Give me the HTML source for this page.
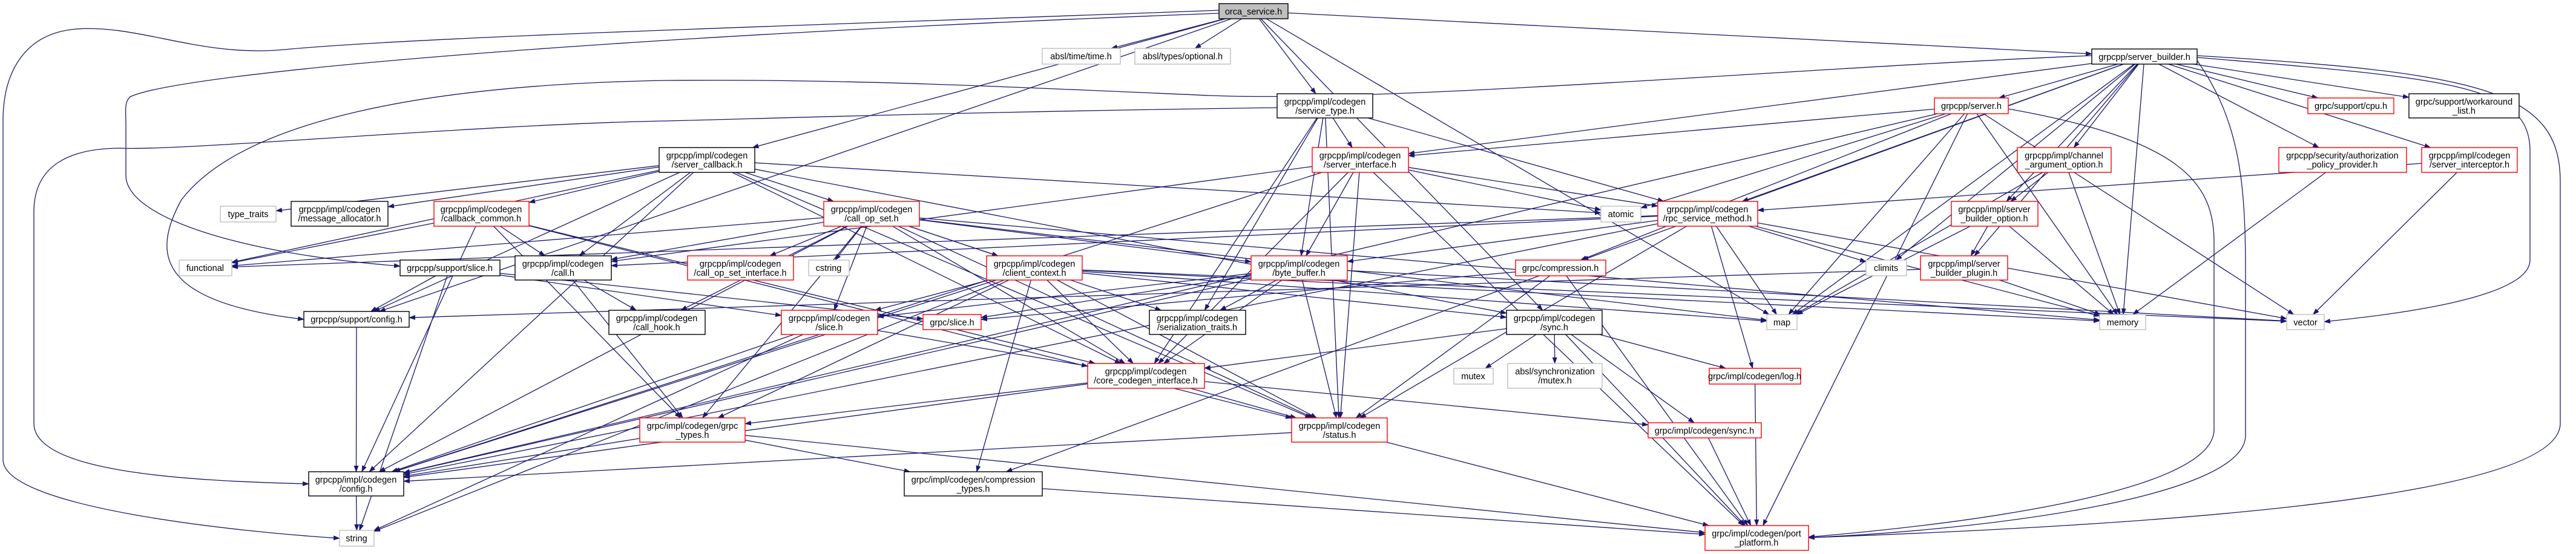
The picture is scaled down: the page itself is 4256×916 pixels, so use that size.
<!DOCTYPE html>
<html><head><meta charset="utf-8"><style>
html,body{margin:0;padding:0;background:#fff;}
svg{display:block;}
text{font-family:"Liberation Sans",sans-serif;font-size:14.5px;fill:#000;text-anchor:middle;}
.k{fill:#fff;stroke:#000;stroke-width:1.4;}
.r{fill:#fff;stroke:#ff0000;stroke-width:1.4;}
.g{fill:#fff;stroke:#bfbfbf;stroke-width:1.4;}
.o{fill:#bfbfbf;stroke:#000;stroke-width:1.4;}
.e{fill:none;stroke:#191970;stroke-width:1.3;}
</style></head><body>
<svg id="s" width="4256" height="916" viewBox="0 0 4256 916" xmlns="http://www.w3.org/2000/svg">
<defs><marker id="a" markerUnits="userSpaceOnUse" markerWidth="11" markerHeight="8" refX="10" refY="4" orient="auto"><path d="M0,0 L11,4 L0,8 z" fill="#191970"/></marker></defs>
<g id="edges">
<path class="e" marker-end="url(#a)" d="M2014,17 C1400,40 700,60 470,82 C330,95 230,40 126,48 C40,55 5,120 5,200 L5,760 C5,840 400,880 561,890"/>
<path class="e" marker-end="url(#a)" d="M2014,22 C1000,60 300,120 215,160 C205,170 208,180 208,210 L208,290 C208,360 400,420 661,440"/>
<path class="e" marker-end="url(#a)" d="M3456,92 C3000,110 2300,170 2000,158 C1700,145 1400,130 1100,133 C700,140 400,200 300,330 C250,420 260,500 502,528"/>
<path class="e" marker-end="url(#a)" d="M2110,178 C1600,185 1300,195 1100,200 C800,205 300,250 200,245 C120,245 56,270 56,350 L56,700 C56,780 300,795 510,800"/>
<path class="e" marker-end="url(#a)" d="M3630,92 C4100,120 4230,150 4230,300 L4230,700 C4230,830 3500,870 2988,889"/>
<path class="e" marker-end="url(#a)" d="M3630,95 C4050,130 4180,140 4180,250 L4180,430 C4180,500 3900,525 3840,532"/>
<path class="e" marker-end="url(#a)" d="M3318,180 C3600,230 3658,300 3658,400 L3658,710 C3658,820 3200,870 2988,888"/>
<path class="e" marker-end="url(#a)" d="M3630,100 C3700,200 3710,300 3710,450 L3710,720 C3710,820 3300,875 2988,889"/>
</g>
<g id="nodes">
<rect class="o" x="2014" y="6" width="114" height="25"/><text x="2071" y="24">orca_service.h</text>
<rect class="g" x="1722" y="80" width="129" height="26"/><text x="1786" y="98">absl/time/time.h</text>
<rect class="g" x="1875" y="80" width="158" height="26"/><text x="1954" y="98">absl/types/optional.h</text>
<rect class="k" x="3456" y="81" width="174" height="25"/><text x="3543" y="99">grpcpp/server_builder.h</text>
<rect class="k" x="2110" y="155" width="158" height="40"/><text x="2189" y="173">grpcpp/impl/codegen</text><text x="2189" y="188">/service_type.h</text>
<rect class="r" x="3196" y="162" width="122" height="26"/><text x="3257" y="180">grpcpp/server.h</text>
<rect class="r" x="3813" y="162" width="142" height="26"/><text x="3884" y="180">grpc/support/cpu.h</text>
<rect class="k" x="3980" y="155" width="182" height="40"/><text x="4071" y="173">grpc/support/workaround</text><text x="4071" y="188">_list.h</text>
<rect class="r" x="2168" y="244" width="159" height="41"/><text x="2247" y="262">grpcpp/impl/codegen</text><text x="2247" y="277">/server_interface.h</text>
<rect class="k" x="1089" y="244" width="158" height="41"/><text x="1168" y="262">grpcpp/impl/codegen</text><text x="1168" y="277">/server_callback.h</text>
<rect class="r" x="3333" y="244" width="155" height="41"/><text x="3410" y="262">grpcpp/impl/channel</text><text x="3410" y="277">_argument_option.h</text>
<rect class="r" x="3765" y="244" width="211" height="41"/><text x="3870" y="262">grpcpp/security/authorization</text><text x="3870" y="277">_policy_provider.h</text>
<rect class="r" x="4001" y="244" width="158" height="41"/><text x="4080" y="262">grpcpp/impl/codegen</text><text x="4080" y="277">/server_interceptor.h</text>
<rect class="g" x="364" y="341" width="92" height="26"/><text x="410" y="359">type_traits</text>
<rect class="k" x="481" y="333" width="160" height="41"/><text x="561" y="351">grpcpp/impl/codegen</text><text x="561" y="366">/message_allocator.h</text>
<rect class="r" x="717" y="333" width="157" height="41"/><text x="795" y="351">grpcpp/impl/codegen</text><text x="795" y="366">/callback_common.h</text>
<rect class="r" x="1361" y="333" width="158" height="41"/><text x="1440" y="351">grpcpp/impl/codegen</text><text x="1440" y="366">/call_op_set.h</text>
<rect class="g" x="2645" y="341" width="66" height="26"/><text x="2678" y="359">atomic</text>
<rect class="r" x="2739" y="333" width="165" height="41"/><text x="2821" y="351">grpcpp/impl/codegen</text><text x="2821" y="366">/rpc_service_method.h</text>
<rect class="r" x="3224" y="333" width="143" height="41"/><text x="3295" y="351">grpcpp/impl/server</text><text x="3295" y="366">_builder_option.h</text>
<rect class="g" x="296" y="430" width="87" height="26"/><text x="339" y="448">functional</text>
<rect class="k" x="661" y="430" width="165" height="26"/><text x="743" y="448">grpcpp/support/slice.h</text>
<rect class="k" x="851" y="423" width="159" height="40"/><text x="930" y="441">grpcpp/impl/codegen</text><text x="930" y="456">/call.h</text>
<rect class="r" x="1136" y="423" width="175" height="40"/><text x="1223" y="441">grpcpp/impl/codegen</text><text x="1223" y="456">/call_op_set_interface.h</text>
<rect class="g" x="1336" y="430" width="67" height="26"/><text x="1369" y="448">cstring</text>
<rect class="r" x="1630" y="423" width="158" height="40"/><text x="1709" y="441">grpcpp/impl/codegen</text><text x="1709" y="456">/client_context.h</text>
<rect class="r" x="2067" y="423" width="159" height="40"/><text x="2146" y="441">grpcpp/impl/codegen</text><text x="2146" y="456">/byte_buffer.h</text>
<rect class="r" x="2504" y="430" width="149" height="26"/><text x="2578" y="448">grpc/compression.h</text>
<rect class="g" x="3083" y="430" width="67" height="26"/><text x="3116" y="448">climits</text>
<rect class="r" x="3173" y="423" width="144" height="40"/><text x="3245" y="441">grpcpp/impl/server</text><text x="3245" y="456">_builder_plugin.h</text>
<rect class="k" x="502" y="515" width="174" height="26"/><text x="589" y="533">grpcpp/support/config.h</text>
<rect class="k" x="1006" y="513" width="159" height="40"/><text x="1085" y="531">grpcpp/impl/codegen</text><text x="1085" y="546">/call_hook.h</text>
<rect class="r" x="1291" y="513" width="159" height="40"/><text x="1370" y="531">grpcpp/impl/codegen</text><text x="1370" y="546">/slice.h</text>
<rect class="r" x="1525" y="520" width="96" height="25"/><text x="1573" y="538">grpc/slice.h</text>
<rect class="k" x="1899" y="513" width="159" height="40"/><text x="1978" y="531">grpcpp/impl/codegen</text><text x="1978" y="546">/serialization_traits.h</text>
<rect class="k" x="2489" y="513" width="158" height="40"/><text x="2568" y="531">grpcpp/impl/codegen</text><text x="2568" y="546">/sync.h</text>
<rect class="g" x="2919" y="520" width="50" height="25"/><text x="2944" y="538">map</text>
<rect class="g" x="3469" y="520" width="76" height="25"/><text x="3507" y="538">memory</text>
<rect class="g" x="3778" y="520" width="62" height="25"/><text x="3809" y="538">vector</text>
<rect class="r" x="1797" y="601" width="193" height="41"/><text x="1893" y="619">grpcpp/impl/codegen</text><text x="1893" y="634">/core_codegen_interface.h</text>
<rect class="g" x="2402" y="609" width="65" height="26"/><text x="2434" y="627">mutex</text>
<rect class="g" x="2491" y="601" width="156" height="41"/><text x="2569" y="619">absl/synchronization</text><text x="2569" y="634">/mutex.h</text>
<rect class="r" x="2824" y="609" width="151" height="26"/><text x="2899" y="627">grpc/impl/codegen/log.h</text>
<rect class="r" x="1057" y="691" width="174" height="40"/><text x="1144" y="709">grpc/impl/codegen/grpc</text><text x="1144" y="724">_types.h</text>
<rect class="r" x="2134" y="691" width="158" height="40"/><text x="2213" y="709">grpcpp/impl/codegen</text><text x="2213" y="724">/status.h</text>
<rect class="r" x="2723" y="699" width="187" height="25"/><text x="2816" y="717">grpc/impl/codegen/sync.h</text>
<rect class="k" x="510" y="780" width="157" height="40"/><text x="588" y="798">grpcpp/impl/codegen</text><text x="588" y="813">/config.h</text>
<rect class="k" x="1494" y="780" width="228" height="40"/><text x="1608" y="798">grpc/impl/codegen/compression</text><text x="1608" y="813">_types.h</text>
<rect class="g" x="561" y="877" width="57" height="26"/><text x="589" y="895">string</text>
<rect class="r" x="2817" y="869" width="171" height="41"/><text x="2902" y="887">grpc/impl/codegen/port</text><text x="2902" y="902">_platform.h</text>
</g>
</svg>
<script>
var N={orca:[2014,6,2128,31],time:[1722,80,1851,106],opt:[1875,80,2033,106],sb:[3456,81,3630,106],st:[2110,155,2268,195],srv:[3196,162,3318,188],cpu:[3813,162,3955,188],wa:[3980,155,4162,195],si:[2168,244,2327,285],scb:[1089,244,1247,285],cao:[3333,244,3488,285],authz:[3765,244,3976,285],sint:[4001,244,4159,285],tt:[364,341,456,367],ma:[481,333,641,374],cc:[717,333,874,374],cos:[1361,333,1519,374],atomic:[2645,341,2711,367],rsm:[2739,333,2904,374],sbo:[3224,333,3367,374],fn:[296,430,383,456],sslice:[661,430,826,456],call:[851,423,1010,463],copi:[1136,423,1311,463],cstr:[1336,430,1403,456],cctx:[1630,423,1788,463],bb:[2067,423,2226,463],comp:[2504,430,2653,456],climits:[3083,430,3150,456],sbp:[3173,423,3317,463],scfg:[502,515,676,541],chook:[1006,513,1165,553],slice:[1291,513,1450,553],gslice:[1525,520,1621,545],ser:[1899,513,2058,553],sync:[2489,513,2647,553],map:[2919,520,2969,545],mem:[3469,520,3545,545],vec:[3778,520,3840,545],ccif:[1797,601,1990,642],mutex:[2402,609,2467,635],amutex:[2491,601,2647,642],log:[2824,609,2975,635],gt:[1057,691,1231,731],status:[2134,691,2292,731],gsync:[2723,699,2910,724],cfg:[510,780,667,820],ct:[1494,780,1722,820],str:[561,877,618,903],pp:[2817,869,2988,910]};
var E="orca>time orca>opt orca>st orca>scb orca>sb orca>map orca>sync orca>scfg "+
"sb>srv sb>cpu sb>wa sb>cao sb>authz sb>sint sb>sbo sb>sbp sb>climits sb>map sb>mem sb>comp sb>rsm sb>si "+
"st>si st>rsm st>ser st>bb st>status st>ccif "+
"srv>si srv>comp srv>map srv>mem srv>vec srv>pp srv>atomic srv>cfg "+
"si>bb si>ccif si>status si>pp si>rsm si>call si>cfg si>atomic "+
"scb>tt scb>ma scb>cc scb>cos scb>call scb>fn scb>atomic scb>sync scb>ccif scb>status scb>cfg scb>scfg "+
"cc>fn cc>call cc>cfg cc>gt cc>status cc>ccif "+
"cos>call cos>copi cos>cstr cos>cctx cos>bb cos>slice cos>chook cos>ser cos>ccif cos>status cos>gt cos>cfg cos>fn cos>map cos>mem "+
"cctx>slice cctx>ccif cctx>status cctx>gt cctx>ct cctx>sync cctx>map cctx>mem cctx>vec cctx>cfg cctx>str "+
"bb>slice bb>ser bb>ccif bb>status bb>gslice bb>vec bb>cfg "+
"rsm>bb rsm>status rsm>map rsm>mem rsm>vec rsm>climits rsm>log rsm>fn rsm>cfg rsm>call "+
"cao>sbo cao>map cao>mem sbo>sbp sbo>mem sbo>map sbp>mem sbp>scfg sint>vec sint>rsm authz>mem "+
"call>chook call>gt sslice>slice sslice>gslice sslice>scfg sslice>str slice>ccif slice>cfg slice>str scfg>cfg "+
"ccif>gt ccif>status ccif>gsync ccif>cfg sync>mutex sync>amutex sync>log sync>gsync sync>ccif sync>pp "+
"gt>ct gt>pp gt>cfg status>cfg status>pp ct>pp cfg>str comp>ct comp>pp comp>gslice comp>status log>pp gsync>pp";
function clip(b,qx,qy){var cx=(b[0]+b[2])/2,cy=(b[1]+b[3])/2,dx=qx-cx,dy=qy-cy,hw=(b[2]-b[0])/2,hh=(b[3]-b[1])/2;
var s=Math.min(dx?hw/Math.abs(dx):1e9,dy?hh/Math.abs(dy):1e9);return [cx+dx*s,cy+dy*s];}
var g=document.getElementById("edges"),ns="http://www.w3.org/2000/svg";
E.split(" ").forEach(function(p){if(!p)return;var q=p.split(">"),a=N[q[0]],b=N[q[1]];if(!a||!b)return;
var ca=[(a[0]+a[2])/2,(a[1]+a[3])/2],cb=[(b[0]+b[2])/2,(b[1]+b[3])/2];
var s=clip(a,cb[0],cb[1]),t=clip(b,ca[0],ca[1]);
var el=document.createElementNS(ns,"path");el.setAttribute("class","e");el.setAttribute("marker-end","url(#a)");
el.setAttribute("d","M"+s[0].toFixed(1)+","+s[1].toFixed(1)+" L"+t[0].toFixed(1)+","+t[1].toFixed(1));g.appendChild(el);});
</script>
</body></html>
